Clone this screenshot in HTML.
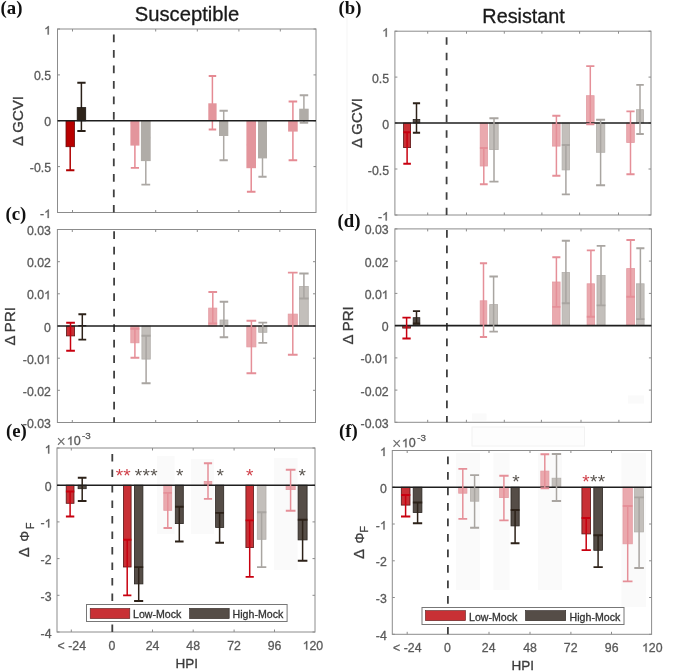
<!DOCTYPE html>
<html><head><meta charset="utf-8"><title>Figure</title>
<style>html,body{margin:0;padding:0;background:#fff;width:685px;height:672px;overflow:hidden}svg{display:block;will-change:transform}</style>
</head><body>
<svg width="685" height="672" viewBox="0 0 685 672" font-family='"Liberation Sans", sans-serif'>
<rect width="685" height="672" fill="#fff"/>
<line x1="347" y1="17" x2="347" y2="215" stroke="#f5f5f5" stroke-width="1"/>
<rect x="157" y="456" width="17.5" height="78" fill="#fafafa"/>
<rect x="191" y="459" width="23" height="75" fill="#fafafa"/>
<rect x="274" y="458" width="23.5" height="112" fill="#fafafa"/>
<rect x="456" y="453" width="24" height="137" fill="#fafafa"/>
<rect x="493.5" y="453" width="16.0" height="137" fill="#fafafa"/>
<rect x="538" y="453" width="24" height="137" fill="#fafafa"/>
<rect x="621.5" y="453" width="24.5" height="154" fill="#fafafa"/>
<rect x="628" y="395.5" width="16" height="8.0" fill="#fafafa"/>
<rect x="472" y="413.5" width="14.5" height="7.0" fill="#fafafa"/>
<rect x="472" y="427" width="112.5" height="19" fill="#fdfdfd" stroke="#f2f2f2" stroke-width="1"/>
<rect x="57.5" y="29" width="258.5" height="183.5" fill="none" stroke="#8c8c8c" stroke-width="1"/>
<path d="M72.5 29v2.5M72.5 212.5v-2.5M155.7 29v2.5M155.7 212.5v-2.5M197.3 29v2.5M197.3 212.5v-2.5M238.9 29v2.5M238.9 212.5v-2.5M280.3 29v2.5M280.3 212.5v-2.5M57.5 29.0h2.5M316 29.0h-2.5M57.5 74.9h2.5M316 74.9h-2.5M57.5 120.8h2.5M316 120.8h-2.5M57.5 166.6h2.5M316 166.6h-2.5M57.5 212.5h2.5M316 212.5h-2.5" stroke="#8c8c8c" stroke-width="1" fill="none"/>
<line x1="113.8" y1="29" x2="113.8" y2="212.5" stroke="#404040" stroke-width="1.8" stroke-dasharray="7.6 7.9" stroke-dashoffset="9.9"/>
<path d="M70.2 123.9V170.3" stroke="#b00000" stroke-width="1.5" fill="none"/>
<path d="M66.1 123.9H74.4M66.1 170.3H74.4" stroke="#b00000" stroke-width="1.9" fill="none"/>
<path d="M81.4 82.8V131.0" stroke="#2a2018" stroke-width="1.5" fill="none"/>
<path d="M77.3 82.8H85.6M77.3 131.0H85.6" stroke="#2a2018" stroke-width="1.9" fill="none"/>
<path d="M134.9 123.3V167.9" stroke="#e58a93" stroke-width="1.5" fill="none"/>
<path d="M130.8 123.3H139.0M130.8 167.9H139.0" stroke="#e58a93" stroke-width="1.9" fill="none"/>
<path d="M145.8 137.6V184.6" stroke="#aca8a4" stroke-width="1.5" fill="none"/>
<path d="M141.4 137.6H150.2M141.4 184.6H150.2" stroke="#aca8a4" stroke-width="1.9" fill="none"/>
<path d="M212.4 76.0V129.5" stroke="#e58a93" stroke-width="1.5" fill="none"/>
<path d="M208.7 76.0H216.2M208.7 129.5H216.2" stroke="#e58a93" stroke-width="1.9" fill="none"/>
<path d="M223.7 110.8V160.2" stroke="#aca8a4" stroke-width="1.5" fill="none"/>
<path d="M219.5 110.8H227.8M219.5 160.2H227.8" stroke="#aca8a4" stroke-width="1.9" fill="none"/>
<path d="M251.2 144.7V191.7" stroke="#e58a93" stroke-width="1.5" fill="none"/>
<path d="M246.9 144.7H255.5M246.9 191.7H255.5" stroke="#e58a93" stroke-width="1.9" fill="none"/>
<path d="M262.5 140.0V176.8" stroke="#aca8a4" stroke-width="1.5" fill="none"/>
<path d="M258.4 140.0H266.6M258.4 176.8H266.6" stroke="#aca8a4" stroke-width="1.9" fill="none"/>
<path d="M292.9 101.5V160.2" stroke="#e58a93" stroke-width="1.5" fill="none"/>
<path d="M288.6 101.5H297.2M288.6 160.2H297.2" stroke="#e58a93" stroke-width="1.9" fill="none"/>
<path d="M303.9 95.3V122.7" stroke="#aca8a4" stroke-width="1.5" fill="none"/>
<path d="M299.7 95.3H308.2M299.7 122.7H308.2" stroke="#aca8a4" stroke-width="1.9" fill="none"/>
<rect x="66.00" y="120.80" width="8.50" height="25.90" fill="#b80000" stroke="#6a0a0a" stroke-width="0.8"/>
<rect x="77.20" y="107.60" width="8.50" height="13.20" fill="#2e241a" stroke="#1a1410" stroke-width="0.8"/>
<rect x="130.4" y="120.8" width="9.0" height="24.8" fill="#e3959c"/>
<rect x="140.9" y="120.8" width="9.8" height="40.3" fill="#b0aca7"/>
<rect x="208.3" y="103.3" width="8.3" height="17.5" fill="#e3959c"/>
<rect x="219.0" y="120.8" width="9.3" height="15.2" fill="#b0aca7"/>
<rect x="246.4" y="120.8" width="9.6" height="47.4" fill="#e3959c"/>
<rect x="258.0" y="120.8" width="9.0" height="37.6" fill="#b0aca7"/>
<rect x="288.1" y="120.8" width="9.6" height="10.8" fill="#e3959c"/>
<rect x="299.2" y="108.7" width="9.5" height="12.1" fill="#b0aca7"/>
<line x1="57.5" y1="120.8" x2="316" y2="120.8" stroke="#1e1e1e" stroke-width="1.6"/>
<text x="44.16" y="34.53" font-size="12.3" fill="#5a5a5a" stroke="#5a5a5a" stroke-width="0.3"> </text>
<path d="M763 0H583V1100Q518 1040 412 980Q306 920 222 890V1057Q373 1125 486 1222Q599 1319 646 1409H763Z" transform="translate(44.16 34.53) scale(0.006006 -0.006006)" fill="#5a5a5a" stroke="#5a5a5a" stroke-width="0.3" vector-effect="non-scaling-stroke"/>
<text x="33.90" y="80.43" font-size="12.3" fill="#5a5a5a" stroke="#5a5a5a" stroke-width="0.3">0.5</text>
<text x="44.16" y="126.33" font-size="12.3" fill="#5a5a5a" stroke="#5a5a5a" stroke-width="0.3">0</text>
<text x="29.81" y="172.13" font-size="12.3" fill="#5a5a5a" stroke="#5a5a5a" stroke-width="0.3">-0.5</text>
<text x="40.06" y="218.03" font-size="12.3" fill="#5a5a5a" stroke="#5a5a5a" stroke-width="0.3">- </text>
<path d="M763 0H583V1100Q518 1040 412 980Q306 920 222 890V1057Q373 1125 486 1222Q599 1319 646 1409H763Z" transform="translate(44.16 218.03) scale(0.006006 -0.006006)" fill="#5a5a5a" stroke="#5a5a5a" stroke-width="0.3" vector-effect="non-scaling-stroke"/>
<text transform="translate(23.3 121) rotate(-90)" text-anchor="middle" font-size="15.0" fill="#3c3c3c" stroke="#3c3c3c" stroke-width="0.3">&#916; GCVI</text>
<text x="0.5" y="14" font-family='"Liberation Serif", serif' font-weight="bold" font-size="18.8" fill="#111">(a)</text>
<text x="187" y="21" text-anchor="middle" font-size="20.2" fill="#1a1a1a" stroke="#1a1a1a" stroke-width="0.3">Susceptible</text>
<rect x="394.9" y="31.2" width="256.1" height="183.8" fill="none" stroke="#8c8c8c" stroke-width="1"/>
<path d="M427.7 31.2v2.5M427.7 215v-2.5M466.5 31.2v2.5M466.5 215v-2.5M504.3 31.2v2.5M504.3 215v-2.5M541.9 31.2v2.5M541.9 215v-2.5M579.6 31.2v2.5M579.6 215v-2.5M618.5 31.2v2.5M618.5 215v-2.5M394.9 31.2h2.5M651 31.2h-2.5M394.9 77.1h2.5M651 77.1h-2.5M394.9 123.0h2.5M651 123.0h-2.5M394.9 169.0h2.5M651 169.0h-2.5M394.9 215.0h2.5M651 215.0h-2.5" stroke="#8c8c8c" stroke-width="1" fill="none"/>
<line x1="446.6" y1="31.2" x2="446.6" y2="215" stroke="#404040" stroke-width="1.8" stroke-dasharray="7.6 7.9" stroke-dashoffset="9.5"/>
<rect x="403.60" y="123.00" width="7.00" height="24.60" fill="#c83035" stroke="#5a1515" stroke-width="0.8"/>
<rect x="413.20" y="119.50" width="6.60" height="3.50" fill="#554d47" stroke="#2a2420" stroke-width="0.8"/>
<rect x="480.20" y="123.00" width="7.20" height="43.00" fill="#eaa9ae" stroke="#e39ba2" stroke-width="0.8"/>
<rect x="489.70" y="123.00" width="8.50" height="26.60" fill="#c3bfbb" stroke="#b3afab" stroke-width="0.8"/>
<rect x="552.60" y="123.00" width="7.50" height="23.10" fill="#eaa9ae" stroke="#e39ba2" stroke-width="0.8"/>
<rect x="562.10" y="123.00" width="7.50" height="46.90" fill="#c3bfbb" stroke="#b3afab" stroke-width="0.8"/>
<rect x="586.50" y="95.70" width="7.60" height="27.30" fill="#eaa9ae" stroke="#e39ba2" stroke-width="0.8"/>
<rect x="596.40" y="123.00" width="8.40" height="29.30" fill="#c3bfbb" stroke="#b3afab" stroke-width="0.8"/>
<rect x="626.70" y="123.00" width="7.60" height="19.50" fill="#eaa9ae" stroke="#e39ba2" stroke-width="0.8"/>
<rect x="636.60" y="109.70" width="6.90" height="13.30" fill="#c3bfbb" stroke="#b3afab" stroke-width="0.8"/>
<line x1="394.9" y1="123" x2="651" y2="123" stroke="#1e1e1e" stroke-width="1.6"/>
<path d="M407.1 132.2V163.8" stroke="#c8000f" stroke-width="1.5" fill="none"/>
<path d="M403.3 132.2H410.9M403.3 163.8H410.9" stroke="#c8000f" stroke-width="1.9" fill="none"/>
<path d="M416.5 103.3V132.8" stroke="#2d2219" stroke-width="1.5" fill="none"/>
<path d="M412.9 103.3H420.1M412.9 132.8H420.1" stroke="#2d2219" stroke-width="1.9" fill="none"/>
<path d="M483.8 148.0V184.3" stroke="#e58f98" stroke-width="1.5" fill="none"/>
<path d="M479.9 148.0H487.7M479.9 184.3H487.7" stroke="#e58f98" stroke-width="1.9" fill="none"/>
<path d="M494.0 118.2V181.6" stroke="#a9a5a1" stroke-width="1.5" fill="none"/>
<path d="M489.4 118.2H498.5M489.4 181.6H498.5" stroke="#a9a5a1" stroke-width="1.9" fill="none"/>
<path d="M556.4 115.8V175.7" stroke="#e58f98" stroke-width="1.5" fill="none"/>
<path d="M552.3 115.8H560.4M552.3 175.7H560.4" stroke="#e58f98" stroke-width="1.9" fill="none"/>
<path d="M565.9 145.0V194.4" stroke="#a9a5a1" stroke-width="1.5" fill="none"/>
<path d="M561.8 145.0H569.9M561.8 194.4H569.9" stroke="#a9a5a1" stroke-width="1.9" fill="none"/>
<path d="M590.3 66.1V124.2" stroke="#e58f98" stroke-width="1.5" fill="none"/>
<path d="M586.2 66.1H594.4M586.2 124.2H594.4" stroke="#e58f98" stroke-width="1.9" fill="none"/>
<path d="M600.6 119.7V185.2" stroke="#a9a5a1" stroke-width="1.5" fill="none"/>
<path d="M596.1 119.7H605.1M596.1 185.2H605.1" stroke="#a9a5a1" stroke-width="1.9" fill="none"/>
<path d="M630.5 111.4V174.2" stroke="#e58f98" stroke-width="1.5" fill="none"/>
<path d="M626.4 111.4H634.6M626.4 174.2H634.6" stroke="#e58f98" stroke-width="1.9" fill="none"/>
<path d="M640.0 84.9V134.0" stroke="#a9a5a1" stroke-width="1.5" fill="none"/>
<path d="M636.3 84.9H643.8M636.3 134.0H643.8" stroke="#a9a5a1" stroke-width="1.9" fill="none"/>
<text x="382.16" y="36.73" font-size="12.3" fill="#5a5a5a" stroke="#5a5a5a" stroke-width="0.3"> </text>
<path d="M763 0H583V1100Q518 1040 412 980Q306 920 222 890V1057Q373 1125 486 1222Q599 1319 646 1409H763Z" transform="translate(382.16 36.73) scale(0.006006 -0.006006)" fill="#5a5a5a" stroke="#5a5a5a" stroke-width="0.3" vector-effect="non-scaling-stroke"/>
<text x="371.90" y="82.63" font-size="12.3" fill="#5a5a5a" stroke="#5a5a5a" stroke-width="0.3">0.5</text>
<text x="382.16" y="128.53" font-size="12.3" fill="#5a5a5a" stroke="#5a5a5a" stroke-width="0.3">0</text>
<text x="367.81" y="174.53" font-size="12.3" fill="#5a5a5a" stroke="#5a5a5a" stroke-width="0.3">-0.5</text>
<text x="378.06" y="220.53" font-size="12.3" fill="#5a5a5a" stroke="#5a5a5a" stroke-width="0.3">- </text>
<path d="M763 0H583V1100Q518 1040 412 980Q306 920 222 890V1057Q373 1125 486 1222Q599 1319 646 1409H763Z" transform="translate(382.16 220.53) scale(0.006006 -0.006006)" fill="#5a5a5a" stroke="#5a5a5a" stroke-width="0.3" vector-effect="non-scaling-stroke"/>
<text transform="translate(361.8 123) rotate(-90)" text-anchor="middle" font-size="15.0" fill="#3c3c3c" stroke="#3c3c3c" stroke-width="0.3">&#916; GCVI</text>
<text x="338.5" y="13.5" font-family='"Liberation Serif", serif' font-weight="bold" font-size="18.8" fill="#111">(b)</text>
<text x="523.6" y="23" text-anchor="middle" font-size="19.8" fill="#1a1a1a" stroke="#1a1a1a" stroke-width="0.3">Resistant</text>
<rect x="57.4" y="229.5" width="258.1" height="193.0" fill="none" stroke="#8c8c8c" stroke-width="1"/>
<path d="M72.3 229.5v2.5M72.3 422.5v-2.5M155.7 229.5v2.5M155.7 422.5v-2.5M197.3 229.5v2.5M197.3 422.5v-2.5M238.7 229.5v2.5M238.7 422.5v-2.5M279.8 229.5v2.5M279.8 422.5v-2.5M57.4 229.5h2.5M315.5 229.5h-2.5M57.4 261.7h2.5M315.5 261.7h-2.5M57.4 293.8h2.5M315.5 293.8h-2.5M57.4 326.0h2.5M315.5 326.0h-2.5M57.4 358.2h2.5M315.5 358.2h-2.5M57.4 390.3h2.5M315.5 390.3h-2.5M57.4 422.5h2.5M315.5 422.5h-2.5" stroke="#8c8c8c" stroke-width="1" fill="none"/>
<line x1="114.1" y1="229.5" x2="114.1" y2="422.5" stroke="#404040" stroke-width="1.8" stroke-dasharray="7.6 7.9" stroke-dashoffset="13.7"/>
<rect x="66.50" y="326.00" width="8.10" height="9.90" fill="#c83035" stroke="#5a1515" stroke-width="0.8"/>
<rect x="78.70" y="325.40" width="7.20" height="0.60" fill="#554d47" stroke="#2a2420" stroke-width="0.8"/>
<rect x="130.80" y="326.00" width="8.20" height="16.80" fill="#eaa9ae" stroke="#e39ba2" stroke-width="0.8"/>
<rect x="141.90" y="326.00" width="8.40" height="33.10" fill="#c3bfbb" stroke="#b3afab" stroke-width="0.8"/>
<rect x="208.70" y="308.10" width="8.10" height="17.90" fill="#eaa9ae" stroke="#e39ba2" stroke-width="0.8"/>
<rect x="220.00" y="320.00" width="7.90" height="6.00" fill="#c3bfbb" stroke="#b3afab" stroke-width="0.8"/>
<rect x="246.80" y="326.00" width="9.10" height="20.90" fill="#eaa9ae" stroke="#e39ba2" stroke-width="0.8"/>
<rect x="258.70" y="326.00" width="8.20" height="6.30" fill="#c3bfbb" stroke="#b3afab" stroke-width="0.8"/>
<rect x="288.20" y="314.10" width="9.10" height="11.90" fill="#eaa9ae" stroke="#e39ba2" stroke-width="0.8"/>
<rect x="299.60" y="286.40" width="8.70" height="39.60" fill="#c3bfbb" stroke="#b3afab" stroke-width="0.8"/>
<line x1="57.4" y1="326" x2="315.5" y2="326" stroke="#1e1e1e" stroke-width="1.6"/>
<path d="M70.5 322.8V350.7" stroke="#c8000f" stroke-width="1.5" fill="none"/>
<path d="M66.2 322.8H74.9M66.2 350.7H74.9" stroke="#c8000f" stroke-width="1.9" fill="none"/>
<path d="M82.3 314.3V339.6" stroke="#2d2219" stroke-width="1.5" fill="none"/>
<path d="M78.4 314.3H86.2M78.4 339.6H86.2" stroke="#2d2219" stroke-width="1.9" fill="none"/>
<path d="M134.9 328.7V357.7" stroke="#e58f98" stroke-width="1.5" fill="none"/>
<path d="M130.5 328.7H139.3M130.5 357.7H139.3" stroke="#e58f98" stroke-width="1.9" fill="none"/>
<path d="M146.1 335.7V383.3" stroke="#a9a5a1" stroke-width="1.5" fill="none"/>
<path d="M141.6 335.7H150.6M141.6 383.3H150.6" stroke="#a9a5a1" stroke-width="1.9" fill="none"/>
<path d="M212.8 292.0V323.4" stroke="#e58f98" stroke-width="1.5" fill="none"/>
<path d="M208.4 292.0H217.1M208.4 323.4H217.1" stroke="#e58f98" stroke-width="1.9" fill="none"/>
<path d="M223.9 301.8V337.2" stroke="#a9a5a1" stroke-width="1.5" fill="none"/>
<path d="M219.7 301.8H228.2M219.7 337.2H228.2" stroke="#a9a5a1" stroke-width="1.9" fill="none"/>
<path d="M251.4 320.8V373.2" stroke="#e58f98" stroke-width="1.5" fill="none"/>
<path d="M246.5 320.8H256.2M246.5 373.2H256.2" stroke="#e58f98" stroke-width="1.9" fill="none"/>
<path d="M262.8 322.6V342.9" stroke="#a9a5a1" stroke-width="1.5" fill="none"/>
<path d="M258.4 322.6H267.2M258.4 342.9H267.2" stroke="#a9a5a1" stroke-width="1.9" fill="none"/>
<path d="M292.8 272.6V354.8" stroke="#e58f98" stroke-width="1.5" fill="none"/>
<path d="M287.9 272.6H297.6M287.9 354.8H297.6" stroke="#e58f98" stroke-width="1.9" fill="none"/>
<path d="M303.9 273.5V298.5" stroke="#a9a5a1" stroke-width="1.5" fill="none"/>
<path d="M299.3 273.5H308.6M299.3 298.5H308.6" stroke="#a9a5a1" stroke-width="1.9" fill="none"/>
<text x="26.96" y="235.03" font-size="12.3" fill="#5a5a5a" stroke="#5a5a5a" stroke-width="0.3">0.03</text>
<text x="26.96" y="267.23" font-size="12.3" fill="#5a5a5a" stroke="#5a5a5a" stroke-width="0.3">0.02</text>
<text x="26.96" y="299.33" font-size="12.3" fill="#5a5a5a" stroke="#5a5a5a" stroke-width="0.3">0.0 </text>
<path d="M763 0H583V1100Q518 1040 412 980Q306 920 222 890V1057Q373 1125 486 1222Q599 1319 646 1409H763Z" transform="translate(44.06 299.33) scale(0.006006 -0.006006)" fill="#5a5a5a" stroke="#5a5a5a" stroke-width="0.3" vector-effect="non-scaling-stroke"/>
<text x="44.06" y="331.53" font-size="12.3" fill="#5a5a5a" stroke="#5a5a5a" stroke-width="0.3">0</text>
<text x="22.86" y="363.73" font-size="12.3" fill="#5a5a5a" stroke="#5a5a5a" stroke-width="0.3">-0.0 </text>
<path d="M763 0H583V1100Q518 1040 412 980Q306 920 222 890V1057Q373 1125 486 1222Q599 1319 646 1409H763Z" transform="translate(44.06 363.73) scale(0.006006 -0.006006)" fill="#5a5a5a" stroke="#5a5a5a" stroke-width="0.3" vector-effect="non-scaling-stroke"/>
<text x="22.86" y="395.83" font-size="12.3" fill="#5a5a5a" stroke="#5a5a5a" stroke-width="0.3">-0.02</text>
<text x="22.86" y="428.03" font-size="12.3" fill="#5a5a5a" stroke="#5a5a5a" stroke-width="0.3">-0.03</text>
<text transform="translate(15.2 326.3) rotate(-90)" text-anchor="middle" font-size="15.0" fill="#3c3c3c" stroke="#3c3c3c" stroke-width="0.3">&#916; PRI</text>
<text x="5.5" y="220" font-family='"Liberation Serif", serif' font-weight="bold" font-size="18.8" fill="#111">(c)</text>
<rect x="394.9" y="228.9" width="256.5" height="193.4" fill="none" stroke="#8c8c8c" stroke-width="1"/>
<path d="M427.7 228.9v2.5M427.7 422.3v-2.5M466.4 228.9v2.5M466.4 422.3v-2.5M504.3 228.9v2.5M504.3 422.3v-2.5M541.4 228.9v2.5M541.4 422.3v-2.5M581.0 228.9v2.5M581.0 422.3v-2.5M618.9 228.9v2.5M618.9 422.3v-2.5M394.9 228.9h2.5M651.4 228.9h-2.5M394.9 261.1h2.5M651.4 261.1h-2.5M394.9 293.4h2.5M651.4 293.4h-2.5M394.9 325.6h2.5M651.4 325.6h-2.5M394.9 357.9h2.5M651.4 357.9h-2.5M394.9 390.1h2.5M651.4 390.1h-2.5M394.9 422.3h2.5M651.4 422.3h-2.5" stroke="#8c8c8c" stroke-width="1" fill="none"/>
<line x1="446.9" y1="228.9" x2="446.9" y2="422.3" stroke="#404040" stroke-width="1.8" stroke-dasharray="7.6 7.9" stroke-dashoffset="14.3"/>
<rect x="402.70" y="325.60" width="7.70" height="2.50" fill="#c83035" stroke="#5a1515" stroke-width="0.8"/>
<rect x="413.20" y="317.70" width="6.60" height="7.90" fill="#554d47" stroke="#2a2420" stroke-width="0.8"/>
<rect x="480.20" y="300.80" width="6.60" height="24.80" fill="#eaa9ae" stroke="#e39ba2" stroke-width="0.8"/>
<rect x="489.70" y="304.60" width="7.90" height="21.00" fill="#c3bfbb" stroke="#b3afab" stroke-width="0.8"/>
<rect x="552.60" y="282.00" width="7.50" height="43.60" fill="#eaa9ae" stroke="#e39ba2" stroke-width="0.8"/>
<rect x="562.10" y="272.50" width="7.50" height="53.10" fill="#c3bfbb" stroke="#b3afab" stroke-width="0.8"/>
<rect x="587.10" y="283.80" width="7.50" height="41.80" fill="#eaa9ae" stroke="#e39ba2" stroke-width="0.8"/>
<rect x="597.00" y="275.40" width="8.10" height="50.20" fill="#c3bfbb" stroke="#b3afab" stroke-width="0.8"/>
<rect x="626.70" y="268.60" width="7.90" height="57.00" fill="#eaa9ae" stroke="#e39ba2" stroke-width="0.8"/>
<rect x="636.60" y="283.80" width="7.50" height="41.80" fill="#c3bfbb" stroke="#b3afab" stroke-width="0.8"/>
<line x1="394.9" y1="325.6" x2="651.4" y2="325.6" stroke="#1e1e1e" stroke-width="1.6"/>
<path d="M406.6 317.6V338.5" stroke="#c8000f" stroke-width="1.5" fill="none"/>
<path d="M402.4 317.6H410.7M402.4 338.5H410.7" stroke="#c8000f" stroke-width="1.9" fill="none"/>
<path d="M416.5 311.1V323.5" stroke="#2d2219" stroke-width="1.5" fill="none"/>
<path d="M412.9 311.1H420.1M412.9 323.5H420.1" stroke="#2d2219" stroke-width="1.9" fill="none"/>
<path d="M483.5 263.2V337.0" stroke="#e58f98" stroke-width="1.5" fill="none"/>
<path d="M479.9 263.2H487.1M479.9 337.0H487.1" stroke="#e58f98" stroke-width="1.9" fill="none"/>
<path d="M493.6 276.5V331.6" stroke="#a9a5a1" stroke-width="1.5" fill="none"/>
<path d="M489.4 276.5H497.9M489.4 331.6H497.9" stroke="#a9a5a1" stroke-width="1.9" fill="none"/>
<path d="M556.4 257.2V306.9" stroke="#e58f98" stroke-width="1.5" fill="none"/>
<path d="M552.3 257.2H560.4M552.3 306.9H560.4" stroke="#e58f98" stroke-width="1.9" fill="none"/>
<path d="M565.9 240.8V303.3" stroke="#a9a5a1" stroke-width="1.5" fill="none"/>
<path d="M561.8 240.8H569.9M561.8 303.3H569.9" stroke="#a9a5a1" stroke-width="1.9" fill="none"/>
<path d="M590.9 250.4V316.7" stroke="#e58f98" stroke-width="1.5" fill="none"/>
<path d="M586.8 250.4H594.9M586.8 316.7H594.9" stroke="#e58f98" stroke-width="1.9" fill="none"/>
<path d="M601.0 245.9V305.4" stroke="#a9a5a1" stroke-width="1.5" fill="none"/>
<path d="M596.7 245.9H605.4M596.7 305.4H605.4" stroke="#a9a5a1" stroke-width="1.9" fill="none"/>
<path d="M630.6 240.0V296.8" stroke="#e58f98" stroke-width="1.5" fill="none"/>
<path d="M626.4 240.0H634.9M626.4 296.8H634.9" stroke="#e58f98" stroke-width="1.9" fill="none"/>
<path d="M640.4 248.3V319.1" stroke="#a9a5a1" stroke-width="1.5" fill="none"/>
<path d="M636.3 248.3H644.4M636.3 319.1H644.4" stroke="#a9a5a1" stroke-width="1.9" fill="none"/>
<text x="364.66" y="234.43" font-size="12.3" fill="#5a5a5a" stroke="#5a5a5a" stroke-width="0.3">0.03</text>
<text x="364.66" y="266.63" font-size="12.3" fill="#5a5a5a" stroke="#5a5a5a" stroke-width="0.3">0.02</text>
<text x="364.66" y="298.93" font-size="12.3" fill="#5a5a5a" stroke="#5a5a5a" stroke-width="0.3">0.0 </text>
<path d="M763 0H583V1100Q518 1040 412 980Q306 920 222 890V1057Q373 1125 486 1222Q599 1319 646 1409H763Z" transform="translate(381.76 298.93) scale(0.006006 -0.006006)" fill="#5a5a5a" stroke="#5a5a5a" stroke-width="0.3" vector-effect="non-scaling-stroke"/>
<text x="381.76" y="331.13" font-size="12.3" fill="#5a5a5a" stroke="#5a5a5a" stroke-width="0.3">0</text>
<text x="360.56" y="363.43" font-size="12.3" fill="#5a5a5a" stroke="#5a5a5a" stroke-width="0.3">-0.0 </text>
<path d="M763 0H583V1100Q518 1040 412 980Q306 920 222 890V1057Q373 1125 486 1222Q599 1319 646 1409H763Z" transform="translate(381.76 363.43) scale(0.006006 -0.006006)" fill="#5a5a5a" stroke="#5a5a5a" stroke-width="0.3" vector-effect="non-scaling-stroke"/>
<text x="360.56" y="395.63" font-size="12.3" fill="#5a5a5a" stroke="#5a5a5a" stroke-width="0.3">-0.02</text>
<text x="360.56" y="427.83" font-size="12.3" fill="#5a5a5a" stroke="#5a5a5a" stroke-width="0.3">-0.03</text>
<text transform="translate(353.4 325.4) rotate(-90)" text-anchor="middle" font-size="15.0" fill="#3c3c3c" stroke="#3c3c3c" stroke-width="0.3">&#916; PRI</text>
<text x="337.5" y="227" font-family='"Liberation Serif", serif' font-weight="bold" font-size="18.8" fill="#111">(d)</text>
<rect x="57" y="448" width="258" height="184" fill="none" stroke="#8c8c8c" stroke-width="1"/>
<path d="M71.3 448v2.5M71.3 632v-2.5M152.5 448v2.5M152.5 632v-2.5M193.2 448v2.5M193.2 632v-2.5M234.1 448v2.5M234.1 632v-2.5M274.5 448v2.5M274.5 632v-2.5M57 448.0h2.5M315 448.0h-2.5M57 485.2h2.5M315 485.2h-2.5M57 521.9h2.5M315 521.9h-2.5M57 558.6h2.5M315 558.6h-2.5M57 595.3h2.5M315 595.3h-2.5M57 632.0h2.5M315 632.0h-2.5" stroke="#8c8c8c" stroke-width="1" fill="none"/>
<line x1="112.3" y1="448" x2="112.3" y2="632" stroke="#404040" stroke-width="1.8" stroke-dasharray="7.6 7.9" stroke-dashoffset="9.5"/>
<rect x="66.20" y="485.20" width="7.80" height="18.10" fill="#c83035" stroke="#5a1515" stroke-width="0.8"/>
<rect x="78.10" y="485.20" width="8.10" height="3.50" fill="#554d47" stroke="#2a2420" stroke-width="0.8"/>
<rect x="123.40" y="485.20" width="7.70" height="81.80" fill="#c83035" stroke="#5a1515" stroke-width="0.8"/>
<rect x="134.40" y="485.20" width="8.50" height="98.70" fill="#554d47" stroke="#2a2420" stroke-width="0.8"/>
<rect x="163.80" y="485.20" width="7.90" height="25.10" fill="#eaa9ae" stroke="#e39ba2" stroke-width="0.8"/>
<rect x="175.30" y="485.20" width="8.00" height="38.40" fill="#554d47" stroke="#2a2420" stroke-width="0.8"/>
<rect x="204.20" y="481.40" width="7.60" height="3.80" fill="#eaa9ae" stroke="#e39ba2" stroke-width="0.8"/>
<rect x="215.60" y="485.20" width="8.10" height="42.20" fill="#554d47" stroke="#2a2420" stroke-width="0.8"/>
<rect x="245.90" y="485.20" width="7.60" height="62.40" fill="#c83035" stroke="#5a1515" stroke-width="0.8"/>
<rect x="257.30" y="485.20" width="8.70" height="54.10" fill="#c3bfbb" stroke="#b3afab" stroke-width="0.8"/>
<rect x="286.10" y="485.20" width="9.10" height="4.40" fill="#eaa9ae" stroke="#e39ba2" stroke-width="0.8"/>
<rect x="298.10" y="485.20" width="9.00" height="54.70" fill="#554d47" stroke="#2a2420" stroke-width="0.8"/>
<line x1="57" y1="485.2" x2="315" y2="485.2" stroke="#1e1e1e" stroke-width="1.6"/>
<path d="M70.1 491.5V516.5" stroke="#c8000f" stroke-width="1.5" fill="none"/>
<path d="M65.9 491.5H74.3M65.9 516.5H74.3" stroke="#c8000f" stroke-width="1.9" fill="none"/>
<path d="M82.2 477.8V501.0" stroke="#2d2219" stroke-width="1.5" fill="none"/>
<path d="M77.8 477.8H86.5M77.8 501.0H86.5" stroke="#2d2219" stroke-width="1.9" fill="none"/>
<path d="M127.2 539.7V595.4" stroke="#c8000f" stroke-width="1.5" fill="none"/>
<path d="M123.1 539.7H131.4M123.1 595.4H131.4" stroke="#c8000f" stroke-width="1.9" fill="none"/>
<path d="M138.7 567.1V601.0" stroke="#2d2219" stroke-width="1.5" fill="none"/>
<path d="M134.1 567.1H143.2M134.1 601.0H143.2" stroke="#2d2219" stroke-width="1.9" fill="none"/>
<path d="M167.8 492.9V528.0" stroke="#e58f98" stroke-width="1.5" fill="none"/>
<path d="M163.5 492.9H172.0M163.5 528.0H172.0" stroke="#e58f98" stroke-width="1.9" fill="none"/>
<path d="M179.3 506.8V541.5" stroke="#2d2219" stroke-width="1.5" fill="none"/>
<path d="M175.0 506.8H183.6M175.0 541.5H183.6" stroke="#2d2219" stroke-width="1.9" fill="none"/>
<path d="M208.0 463.2V498.9" stroke="#e58f98" stroke-width="1.5" fill="none"/>
<path d="M203.9 463.2H212.1M203.9 498.9H212.1" stroke="#e58f98" stroke-width="1.9" fill="none"/>
<path d="M219.6 512.9V542.7" stroke="#2d2219" stroke-width="1.5" fill="none"/>
<path d="M215.3 512.9H224.0M215.3 542.7H224.0" stroke="#2d2219" stroke-width="1.9" fill="none"/>
<path d="M249.7 520.4V576.9" stroke="#c8000f" stroke-width="1.5" fill="none"/>
<path d="M245.6 520.4H253.8M245.6 576.9H253.8" stroke="#c8000f" stroke-width="1.9" fill="none"/>
<path d="M261.6 512.3V567.1" stroke="#a9a5a1" stroke-width="1.5" fill="none"/>
<path d="M257.0 512.3H266.3M257.0 567.1H266.3" stroke="#a9a5a1" stroke-width="1.9" fill="none"/>
<path d="M290.6 469.8V510.8" stroke="#e58f98" stroke-width="1.5" fill="none"/>
<path d="M285.8 469.8H295.5M285.8 510.8H295.5" stroke="#e58f98" stroke-width="1.9" fill="none"/>
<path d="M302.6 519.8V560.8" stroke="#2d2219" stroke-width="1.5" fill="none"/>
<path d="M297.8 519.8H307.4M297.8 560.8H307.4" stroke="#2d2219" stroke-width="1.9" fill="none"/>
<text x="44.66" y="453.53" font-size="12.3" fill="#5a5a5a" stroke="#5a5a5a" stroke-width="0.3"> </text>
<path d="M763 0H583V1100Q518 1040 412 980Q306 920 222 890V1057Q373 1125 486 1222Q599 1319 646 1409H763Z" transform="translate(44.66 453.53) scale(0.006006 -0.006006)" fill="#5a5a5a" stroke="#5a5a5a" stroke-width="0.3" vector-effect="non-scaling-stroke"/>
<text x="44.66" y="490.73" font-size="12.3" fill="#5a5a5a" stroke="#5a5a5a" stroke-width="0.3">0</text>
<text x="40.56" y="527.43" font-size="12.3" fill="#5a5a5a" stroke="#5a5a5a" stroke-width="0.3">- </text>
<path d="M763 0H583V1100Q518 1040 412 980Q306 920 222 890V1057Q373 1125 486 1222Q599 1319 646 1409H763Z" transform="translate(44.66 527.43) scale(0.006006 -0.006006)" fill="#5a5a5a" stroke="#5a5a5a" stroke-width="0.3" vector-effect="non-scaling-stroke"/>
<text x="40.56" y="564.13" font-size="12.3" fill="#5a5a5a" stroke="#5a5a5a" stroke-width="0.3">-2</text>
<text x="40.56" y="600.83" font-size="12.3" fill="#5a5a5a" stroke="#5a5a5a" stroke-width="0.3">-3</text>
<text x="40.56" y="637.53" font-size="12.3" fill="#5a5a5a" stroke="#5a5a5a" stroke-width="0.3">-4</text>
<text x="57.61" y="649.50" font-size="12.3" fill="#5a5a5a" stroke="#5a5a5a" stroke-width="0.3">&lt; -24</text>
<text x="108.38" y="649.50" font-size="12.3" fill="#5a5a5a" stroke="#5a5a5a" stroke-width="0.3">0</text>
<text x="145.66" y="649.50" font-size="12.3" fill="#5a5a5a" stroke="#5a5a5a" stroke-width="0.3">24</text>
<text x="186.36" y="649.50" font-size="12.3" fill="#5a5a5a" stroke="#5a5a5a" stroke-width="0.3">48</text>
<text x="227.26" y="649.50" font-size="12.3" fill="#5a5a5a" stroke="#5a5a5a" stroke-width="0.3">72</text>
<text x="267.66" y="649.50" font-size="12.3" fill="#5a5a5a" stroke="#5a5a5a" stroke-width="0.3">96</text>
<text x="302.64" y="649.50" font-size="12.3" fill="#5a5a5a" stroke="#5a5a5a" stroke-width="0.3"> 20</text>
<path d="M763 0H583V1100Q518 1040 412 980Q306 920 222 890V1057Q373 1125 486 1222Q599 1319 646 1409H763Z" transform="translate(302.64 649.50) scale(0.006006 -0.006006)" fill="#5a5a5a" stroke="#5a5a5a" stroke-width="0.3" vector-effect="non-scaling-stroke"/>
<text x="186.7" y="667.6" text-anchor="middle" font-size="13.5" fill="#3c3c3c" stroke="#3c3c3c" stroke-width="0.3">HPI</text>
<text x="6" y="437" font-family='"Liberation Serif", serif' font-weight="bold" font-size="18.8" fill="#111">(e)</text>
<text x="56.6" y="446.90000000000003" font-size="16" fill="#707070" class="ns">&#215;</text>
<text x="66.80" y="445.10" font-size="12.5" fill="#5a5a5a" stroke="#5a5a5a" stroke-width="0.3"> 0</text>
<path d="M763 0H583V1100Q518 1040 412 980Q306 920 222 890V1057Q373 1125 486 1222Q599 1319 646 1409H763Z" transform="translate(66.80 445.10) scale(0.006104 -0.006104)" fill="#5a5a5a" stroke="#5a5a5a" stroke-width="0.3" vector-effect="non-scaling-stroke"/>
<text x="82.1" y="439.1" font-size="9.8" fill="#5a5a5a" stroke="#5a5a5a" stroke-width="0.3">-3</text>
<text transform="translate(29.1 557.3) rotate(-90)" font-size="15" fill="#3c3c3c" stroke="#3c3c3c" stroke-width="0.3">&#916;</text>
<text transform="translate(29.1 541.6999999999999) rotate(-90)" font-size="13.6" fill="#3c3c3c" stroke="#3c3c3c" stroke-width="0.3">&#934;</text>
<text transform="translate(33.7 528.9) rotate(-90)" font-size="10.6" fill="#3c3c3c" stroke="#3c3c3c" stroke-width="0.3">F</text>
<text x="119.4" y="482.1" text-anchor="middle" font-size="19" fill="#d0404a" class="ns">*</text>
<text x="127.0" y="482.1" text-anchor="middle" font-size="19" fill="#d0404a" class="ns">*</text>
<text x="138.5" y="482.1" text-anchor="middle" font-size="19" fill="#5a5550" class="ns">*</text>
<text x="146.2" y="482.1" text-anchor="middle" font-size="19" fill="#5a5550" class="ns">*</text>
<text x="153.9" y="482.1" text-anchor="middle" font-size="19" fill="#5a5550" class="ns">*</text>
<text x="179.6" y="482.1" text-anchor="middle" font-size="19" fill="#5a5550" class="ns">*</text>
<text x="220.2" y="482.1" text-anchor="middle" font-size="19" fill="#5a5550" class="ns">*</text>
<text x="249.7" y="482.1" text-anchor="middle" font-size="19" fill="#d0404a" class="ns">*</text>
<text x="302.1" y="482.1" text-anchor="middle" font-size="19" fill="#5a5550" class="ns">*</text>
<rect x="86.5" y="604.5" width="200.6" height="17" fill="#fff" stroke="#777" stroke-width="1"/>
<rect x="90.2" y="608.4" width="39.6" height="10.2" fill="#c83035" stroke="#5a2020" stroke-width="0.6"/>
<text x="133" y="618.2" font-size="10.6" fill="#333" stroke="#333" stroke-width="0.3">Low-Mock</text>
<rect x="189.6" y="608.4" width="39.6" height="10.2" fill="#554d47" stroke="#2a2420" stroke-width="0.6"/>
<text x="232.6" y="618.2" font-size="10.6" fill="#333" stroke="#333" stroke-width="0.3">High-Mock</text>
<rect x="392.3" y="450.5" width="259.3" height="183.79999999999995" fill="none" stroke="#8c8c8c" stroke-width="1"/>
<path d="M407.2 450.5v2.5M407.2 634.3v-2.5M489.0 450.5v2.5M489.0 634.3v-2.5M530.0 450.5v2.5M530.0 634.3v-2.5M570.9 450.5v2.5M570.9 634.3v-2.5M611.5 450.5v2.5M611.5 634.3v-2.5M392.3 450.5h2.5M651.6 450.5h-2.5M392.3 487.2h2.5M651.6 487.2h-2.5M392.3 524.0h2.5M651.6 524.0h-2.5M392.3 560.8h2.5M651.6 560.8h-2.5M392.3 597.5h2.5M651.6 597.5h-2.5M392.3 634.3h2.5M651.6 634.3h-2.5" stroke="#8c8c8c" stroke-width="1" fill="none"/>
<line x1="447.9" y1="450.5" x2="447.9" y2="634.3" stroke="#404040" stroke-width="1.8" stroke-dasharray="7.6 7.9" stroke-dashoffset="9.4"/>
<rect x="401.30" y="487.20" width="8.70" height="17.90" fill="#c83035" stroke="#5a1515" stroke-width="0.8"/>
<rect x="413.20" y="487.20" width="8.70" height="25.30" fill="#554d47" stroke="#2a2420" stroke-width="0.8"/>
<rect x="458.70" y="487.20" width="8.20" height="6.00" fill="#eaa9ae" stroke="#e39ba2" stroke-width="0.8"/>
<rect x="470.40" y="487.20" width="8.40" height="14.00" fill="#c3bfbb" stroke="#b3afab" stroke-width="0.8"/>
<rect x="499.60" y="487.20" width="8.70" height="10.40" fill="#eaa9ae" stroke="#e39ba2" stroke-width="0.8"/>
<rect x="511.00" y="487.20" width="8.20" height="38.70" fill="#554d47" stroke="#2a2420" stroke-width="0.8"/>
<rect x="540.80" y="471.10" width="8.10" height="16.10" fill="#eaa9ae" stroke="#e39ba2" stroke-width="0.8"/>
<rect x="552.10" y="478.20" width="8.70" height="9.00" fill="#c3bfbb" stroke="#b3afab" stroke-width="0.8"/>
<rect x="581.90" y="487.20" width="8.70" height="46.70" fill="#c83035" stroke="#5a1515" stroke-width="0.8"/>
<rect x="593.80" y="487.20" width="8.70" height="63.10" fill="#554d47" stroke="#2a2420" stroke-width="0.8"/>
<rect x="623.00" y="487.20" width="9.30" height="56.60" fill="#eaa9ae" stroke="#e39ba2" stroke-width="0.8"/>
<rect x="634.60" y="487.20" width="9.00" height="44.70" fill="#c3bfbb" stroke="#b3afab" stroke-width="0.8"/>
<line x1="392.3" y1="487.2" x2="651.6" y2="487.2" stroke="#1e1e1e" stroke-width="1.6"/>
<path d="M405.6 495.0V516.5" stroke="#c8000f" stroke-width="1.5" fill="none"/>
<path d="M401.0 495.0H410.3M401.0 516.5H410.3" stroke="#c8000f" stroke-width="1.9" fill="none"/>
<path d="M417.6 502.5V523.3" stroke="#2d2219" stroke-width="1.5" fill="none"/>
<path d="M412.9 502.5H422.2M412.9 523.3H422.2" stroke="#2d2219" stroke-width="1.9" fill="none"/>
<path d="M462.8 468.9V518.9" stroke="#e58f98" stroke-width="1.5" fill="none"/>
<path d="M458.4 468.9H467.2M458.4 518.9H467.2" stroke="#e58f98" stroke-width="1.9" fill="none"/>
<path d="M474.6 475.1V527.8" stroke="#a9a5a1" stroke-width="1.5" fill="none"/>
<path d="M470.1 475.1H479.1M470.1 527.8H479.1" stroke="#a9a5a1" stroke-width="1.9" fill="none"/>
<path d="M503.9 475.7V520.4" stroke="#e58f98" stroke-width="1.5" fill="none"/>
<path d="M499.3 475.7H508.6M499.3 520.4H508.6" stroke="#e58f98" stroke-width="1.9" fill="none"/>
<path d="M515.1 510.0V543.3" stroke="#2d2219" stroke-width="1.5" fill="none"/>
<path d="M510.7 510.0H519.5M510.7 543.3H519.5" stroke="#2d2219" stroke-width="1.9" fill="none"/>
<path d="M544.8 454.3V488.2" stroke="#e58f98" stroke-width="1.5" fill="none"/>
<path d="M540.5 454.3H549.2M540.5 488.2H549.2" stroke="#e58f98" stroke-width="1.9" fill="none"/>
<path d="M556.5 454.0V501.0" stroke="#a9a5a1" stroke-width="1.5" fill="none"/>
<path d="M551.8 454.0H561.1M551.8 501.0H561.1" stroke="#a9a5a1" stroke-width="1.9" fill="none"/>
<path d="M586.2 518.0V550.1" stroke="#c8000f" stroke-width="1.5" fill="none"/>
<path d="M581.6 518.0H590.9M581.6 550.1H590.9" stroke="#c8000f" stroke-width="1.9" fill="none"/>
<path d="M598.1 535.2V567.1" stroke="#2d2219" stroke-width="1.5" fill="none"/>
<path d="M593.5 535.2H602.8M593.5 567.1H602.8" stroke="#2d2219" stroke-width="1.9" fill="none"/>
<path d="M627.7 506.0V581.4" stroke="#e58f98" stroke-width="1.5" fill="none"/>
<path d="M622.8 506.0H632.5M622.8 581.4H632.5" stroke="#e58f98" stroke-width="1.9" fill="none"/>
<path d="M639.1 497.4V568.0" stroke="#a9a5a1" stroke-width="1.5" fill="none"/>
<path d="M634.3 497.4H643.9M634.3 568.0H643.9" stroke="#a9a5a1" stroke-width="1.9" fill="none"/>
<text x="379.96" y="456.03" font-size="12.3" fill="#5a5a5a" stroke="#5a5a5a" stroke-width="0.3"> </text>
<path d="M763 0H583V1100Q518 1040 412 980Q306 920 222 890V1057Q373 1125 486 1222Q599 1319 646 1409H763Z" transform="translate(379.96 456.03) scale(0.006006 -0.006006)" fill="#5a5a5a" stroke="#5a5a5a" stroke-width="0.3" vector-effect="non-scaling-stroke"/>
<text x="379.96" y="492.73" font-size="12.3" fill="#5a5a5a" stroke="#5a5a5a" stroke-width="0.3">0</text>
<text x="375.86" y="529.53" font-size="12.3" fill="#5a5a5a" stroke="#5a5a5a" stroke-width="0.3">- </text>
<path d="M763 0H583V1100Q518 1040 412 980Q306 920 222 890V1057Q373 1125 486 1222Q599 1319 646 1409H763Z" transform="translate(379.96 529.53) scale(0.006006 -0.006006)" fill="#5a5a5a" stroke="#5a5a5a" stroke-width="0.3" vector-effect="non-scaling-stroke"/>
<text x="375.86" y="566.33" font-size="12.3" fill="#5a5a5a" stroke="#5a5a5a" stroke-width="0.3">-2</text>
<text x="375.86" y="603.03" font-size="12.3" fill="#5a5a5a" stroke="#5a5a5a" stroke-width="0.3">-3</text>
<text x="375.86" y="639.83" font-size="12.3" fill="#5a5a5a" stroke="#5a5a5a" stroke-width="0.3">-4</text>
<text x="393.11" y="651.80" font-size="12.3" fill="#5a5a5a" stroke="#5a5a5a" stroke-width="0.3">&lt; -24</text>
<text x="443.98" y="651.80" font-size="12.3" fill="#5a5a5a" stroke="#5a5a5a" stroke-width="0.3">0</text>
<text x="481.86" y="651.80" font-size="12.3" fill="#5a5a5a" stroke="#5a5a5a" stroke-width="0.3">24</text>
<text x="523.16" y="651.80" font-size="12.3" fill="#5a5a5a" stroke="#5a5a5a" stroke-width="0.3">48</text>
<text x="563.86" y="651.80" font-size="12.3" fill="#5a5a5a" stroke="#5a5a5a" stroke-width="0.3">72</text>
<text x="604.86" y="651.80" font-size="12.3" fill="#5a5a5a" stroke="#5a5a5a" stroke-width="0.3">96</text>
<text x="642.04" y="651.80" font-size="12.3" fill="#5a5a5a" stroke="#5a5a5a" stroke-width="0.3"> 20</text>
<path d="M763 0H583V1100Q518 1040 412 980Q306 920 222 890V1057Q373 1125 486 1222Q599 1319 646 1409H763Z" transform="translate(642.04 651.80) scale(0.006006 -0.006006)" fill="#5a5a5a" stroke="#5a5a5a" stroke-width="0.3" vector-effect="non-scaling-stroke"/>
<text x="522.7" y="670.3" text-anchor="middle" font-size="13.5" fill="#3c3c3c" stroke="#3c3c3c" stroke-width="0.3">HPI</text>
<text x="339" y="437" font-family='"Liberation Serif", serif' font-weight="bold" font-size="18.8" fill="#111">(f)</text>
<text x="392.0" y="449.1" font-size="16" fill="#707070" class="ns">&#215;</text>
<text x="401.80" y="447.30" font-size="12.5" fill="#5a5a5a" stroke="#5a5a5a" stroke-width="0.3"> 0</text>
<path d="M763 0H583V1100Q518 1040 412 980Q306 920 222 890V1057Q373 1125 486 1222Q599 1319 646 1409H763Z" transform="translate(401.80 447.30) scale(0.006104 -0.006104)" fill="#5a5a5a" stroke="#5a5a5a" stroke-width="0.3" vector-effect="non-scaling-stroke"/>
<text x="417.2" y="441.0" font-size="9.8" fill="#5a5a5a" stroke="#5a5a5a" stroke-width="0.3">-3</text>
<text transform="translate(363.7 559.1) rotate(-90)" font-size="15" fill="#3c3c3c" stroke="#3c3c3c" stroke-width="0.3">&#916;</text>
<text transform="translate(363.7 543.5) rotate(-90)" font-size="13.6" fill="#3c3c3c" stroke="#3c3c3c" stroke-width="0.3">&#934;</text>
<text transform="translate(368.3 532.5) rotate(-90)" font-size="10.6" fill="#3c3c3c" stroke="#3c3c3c" stroke-width="0.3">F</text>
<text x="516.0" y="488.2" text-anchor="middle" font-size="19" fill="#5a5550" class="ns">*</text>
<text x="586.0" y="488.2" text-anchor="middle" font-size="19" fill="#d0404a" class="ns">*</text>
<text x="593.6" y="488.2" text-anchor="middle" font-size="19" fill="#5a5550" class="ns">*</text>
<text x="601.4" y="488.2" text-anchor="middle" font-size="19" fill="#5a5550" class="ns">*</text>
<rect x="422" y="607.5" width="202" height="17" fill="#fff" stroke="#777" stroke-width="1"/>
<rect x="425.4" y="610.6" width="40.1" height="10.1" fill="#c83035" stroke="#5a2020" stroke-width="0.6"/>
<text x="469" y="620.5" font-size="10.6" fill="#333" stroke="#333" stroke-width="0.3">Low-Mock</text>
<rect x="525.5" y="610.6" width="40.2" height="10.1" fill="#554d47" stroke="#2a2420" stroke-width="0.6"/>
<text x="569.6" y="620.5" font-size="10.6" fill="#333" stroke="#333" stroke-width="0.3">High-Mock</text>
</svg>
</body></html>
